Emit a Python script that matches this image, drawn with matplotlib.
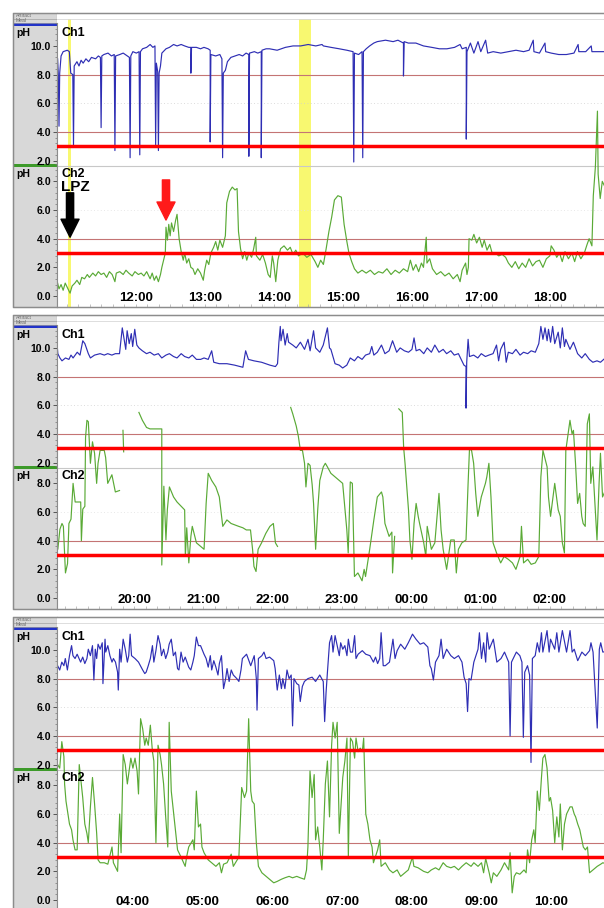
import numpy as np
import matplotlib.pyplot as plt
from matplotlib.patches import Rectangle

plt.rcParams['font.family'] = ['Liberation Sans', 'DejaVu Sans']

nan = float('nan')

# ---- readings (hour, pH) taken off the tracing ----
p1_ch1 = [(10.87, 9.1), (10.88, 8.0), (10.89, 4.4), (10.90, 8.1), (10.92, 9.3), (10.95, 9.6),
          (11.01, 9.7), (11.04, 9.6), (11.06, 8.1), (11.09, 8.0), (11.10, 3.1), (11.11, 8.6),
          (11.15, 8.9), (11.18, 8.6), (11.21, 9.0), (11.24, 8.8), (11.28, 9.1), (11.32, 8.9),
          (11.36, 9.2), (11.42, 9.1), (11.46, 9.3), (11.49, 9.2), (11.50, 4.3), (11.51, 9.3),
          (11.54, 9.4), (11.60, 9.5), (11.65, 9.3), (11.69, 9.4), (11.70, 2.7), (11.71, 9.3),
          (11.77, 9.4), (11.82, 9.5), (11.88, 9.3), (11.91, 9.2), (11.92, 2.2), (11.93, 9.3),
          (11.96, 9.6), (12.01, 9.5), (12.05, 9.6), (12.06, 2.4), (12.07, 9.6), (12.10, 9.8),
          (12.16, 9.9), (12.21, 10.1), (12.25, 9.9), (12.28, 10.0), (12.29, 3.1), (12.30, 8.8),
          (12.32, 8.2), (12.33, 2.7), (12.34, 8.1), (12.36, 8.6), (12.38, 9.5), (12.44, 9.8),
          (12.49, 9.9), (12.55, 10.1), (12.60, 10.0), (12.66, 10.1), (12.71, 10.0), (12.77, 9.9),
          (12.80, 9.9), (12.80, 8.1), (12.81, 9.9), (12.88, 9.9), (12.94, 9.8), (12.99, 9.9),
          (13.05, 9.8), (13.08, 9.7), (13.08, 3.3), (13.09, 9.4), (13.16, 9.3), (13.22, 9.4),
          (13.25, 9.1), (13.26, 2.2), (13.27, 8.1), (13.30, 8.3), (13.33, 8.9), (13.38, 9.2),
          (13.44, 9.3), (13.50, 9.4), (13.55, 9.3), (13.60, 9.5), (13.64, 9.4), (13.64, 2.3),
          (13.65, 9.5), (13.72, 9.6), (13.77, 9.5), (13.82, 9.6), (13.82, 2.2), (13.83, 9.7),
          (13.89, 9.8), (13.94, 9.8), (14.05, 9.7), (14.17, 9.9), (14.28, 10.0), (14.39, 10.0),
          (14.50, 10.1), (14.61, 10.0), (14.70, 10.1), (14.72, 10.0), (14.83, 9.9), (14.95, 9.8),
          (15.06, 9.7), (15.15, 9.6), (15.16, 1.9), (15.17, 9.5), (15.23, 9.4), (15.28, 9.6),
          (15.29, 2.2), (15.30, 9.6), (15.34, 9.8), (15.39, 10.0), (15.45, 10.2), (15.50, 10.3),
          (15.62, 10.4), (15.73, 10.3), (15.80, 10.4), (15.88, 10.2), (15.88, 7.9), (15.89, 10.3),
          (15.95, 10.2), (16.06, 10.2), (16.17, 10.0), (16.29, 9.9), (16.40, 9.8), (16.51, 9.8),
          (16.62, 9.9), (16.70, 10.1), (16.73, 9.8), (16.79, 9.9), (16.79, 3.5), (16.80, 9.6),
          (16.85, 10.2), (16.90, 9.5), (16.96, 10.3), (17.00, 9.6), (17.07, 10.4), (17.10, 9.5),
          (17.18, 9.6), (17.29, 9.5), (17.40, 9.6), (17.51, 9.7), (17.62, 9.6), (17.70, 9.7),
          (17.76, 10.4), (17.77, 9.6), (17.85, 9.5), (17.93, 10.2), (17.94, 9.6), (18.02, 9.5),
          (18.13, 9.4), (18.24, 9.4), (18.35, 9.5), (18.41, 10.1), (18.42, 9.6), (18.52, 9.6),
          (18.60, 10.0), (18.61, 9.6), (18.73, 9.6), (18.80, 9.6)]

p1_ch2 = [(10.87, 0.9), (10.89, 0.5), (10.92, 0.8), (10.95, 0.4), (10.98, 0.9), (11.02, 0.5),
          (11.05, 0.2), (11.08, 0.7), (11.12, 0.9), (11.15, 1.1), (11.19, 0.8), (11.22, 1.3),
          (11.26, 1.2), (11.30, 1.5), (11.33, 1.3), (11.38, 1.6), (11.42, 1.4), (11.46, 1.7),
          (11.50, 1.5), (11.54, 1.6), (11.58, 1.3), (11.62, 1.7), (11.66, 1.5), (11.70, 1.0),
          (11.72, 1.6), (11.77, 1.7), (11.82, 1.5), (11.86, 1.8), (11.90, 1.6), (11.95, 1.4),
          (11.99, 1.7), (12.04, 1.5), (12.08, 1.6), (12.12, 1.4), (12.16, 1.7), (12.21, 1.2),
          (12.24, 1.6), (12.27, 1.1), (12.30, 1.4), (12.33, 1.0), (12.36, 1.5), (12.38, 2.0),
          (12.41, 2.6), (12.43, 3.0), (12.44, 4.8), (12.46, 3.9), (12.48, 5.0), (12.50, 4.2),
          (12.52, 5.1), (12.55, 4.5), (12.58, 5.3), (12.60, 5.7), (12.63, 4.0), (12.66, 3.1),
          (12.69, 2.5), (12.71, 3.0), (12.74, 2.3), (12.77, 2.6), (12.80, 2.0), (12.83, 1.9),
          (12.86, 1.5), (12.90, 1.9), (12.94, 1.6), (12.98, 1.1), (13.00, 1.8), (13.03, 2.5),
          (13.06, 2.2), (13.09, 3.0), (13.13, 3.4), (13.16, 3.8), (13.19, 3.2), (13.22, 3.9),
          (13.26, 3.4), (13.30, 4.2), (13.32, 6.5), (13.36, 7.3), (13.40, 7.6), (13.44, 7.4),
          (13.47, 7.5), (13.49, 4.5), (13.52, 3.3), (13.55, 2.6), (13.58, 3.1), (13.61, 2.5),
          (13.64, 3.0), (13.68, 2.7), (13.71, 3.3), (13.74, 4.1), (13.75, 2.8), (13.80, 2.5),
          (13.84, 2.9), (13.88, 2.3), (13.92, 1.5), (13.95, 1.3), (13.98, 2.8), (14.00, 2.3),
          (14.03, 1.0), (14.06, 2.5), (14.10, 3.3), (14.15, 3.5), (14.20, 3.2), (14.24, 3.4),
          (14.28, 2.9), (14.32, 3.2), (14.36, 2.8), (14.42, 3.0), (14.48, 2.7), (14.54, 2.9),
          (14.60, 2.4), (14.64, 2.0), (14.68, 2.5), (14.72, 2.2), (14.76, 3.3), (14.80, 4.5),
          (14.84, 5.5), (14.88, 6.7), (14.93, 7.0), (14.98, 6.9), (15.02, 5.0), (15.06, 3.8),
          (15.09, 3.0), (15.13, 2.4), (15.17, 1.9), (15.22, 1.6), (15.28, 1.8), (15.34, 1.6),
          (15.40, 1.8), (15.46, 1.5), (15.52, 1.7), (15.58, 1.6), (15.64, 1.9), (15.70, 1.5),
          (15.76, 1.8), (15.82, 1.6), (15.88, 1.9), (15.94, 1.7), (15.98, 2.5), (16.02, 1.8),
          (16.06, 2.2), (16.10, 1.7), (16.14, 2.3), (16.17, 2.0), (16.21, 4.1), (16.22, 2.3),
          (16.26, 2.6), (16.30, 1.9), (16.36, 1.5), (16.42, 1.7), (16.48, 1.4), (16.54, 1.6),
          (16.60, 1.2), (16.66, 1.5), (16.70, 1.0), (16.73, 1.8), (16.78, 2.3), (16.80, 1.5),
          (16.82, 2.0), (16.83, 4.0), (16.87, 3.9), (16.90, 4.3), (16.94, 3.7), (16.98, 4.1),
          (17.02, 3.4), (17.05, 3.9), (17.09, 3.2), (17.13, 3.6), (17.17, 2.9), (17.21, 3.0),
          (17.26, 2.8), (17.31, 2.9), (17.36, 2.7), (17.40, 2.3), (17.45, 2.0), (17.50, 2.4),
          (17.55, 1.9), (17.60, 2.3), (17.65, 2.0), (17.70, 2.6), (17.75, 2.1), (17.80, 2.4),
          (17.85, 2.5), (17.90, 2.0), (17.95, 2.6), (18.00, 2.8), (18.02, 3.5), (18.06, 3.2),
          (18.10, 2.7), (18.14, 3.0), (18.18, 2.4), (18.22, 3.1), (18.27, 2.6), (18.32, 3.0),
          (18.36, 2.4), (18.40, 3.1), (18.45, 2.6), (18.50, 3.0), (18.54, 3.6), (18.57, 4.0),
          (18.61, 3.5), (18.63, 7.0), (18.66, 9.0), (18.69, 12.9), (18.70, 8.5), (18.73, 6.8),
          (18.76, 8.0), (18.80, 7.6)]

p2_ch1 = [(18.89, 10.2), (18.90, 9.6), (18.93, 9.3), (18.96, 9.1), (19.01, 9.3), (19.06, 9.2),
          (19.09, 9.5), (19.12, 9.3), (19.18, 9.7), (19.22, 9.5), (19.26, 10.5), (19.29, 10.3),
          (19.34, 9.6), (19.37, 9.3), (19.43, 9.5), (19.51, 9.6), (19.57, 9.5), (19.62, 9.6),
          (19.68, 9.5), (19.73, 9.6), (19.79, 9.6), (19.83, 11.4), (19.86, 10.5), (19.88, 9.9),
          (19.90, 11.2), (19.93, 10.3), (19.96, 11.0), (19.98, 10.1), (20.01, 11.3), (20.04, 10.2),
          (20.07, 10.0), (20.12, 9.8), (20.18, 9.6), (20.23, 9.7), (20.29, 9.5), (20.35, 9.6),
          (20.40, 9.3), (20.46, 9.5), (20.51, 9.6), (20.57, 9.4), (20.62, 9.3), (20.68, 9.6),
          (20.73, 9.4), (20.79, 9.3), (20.84, 9.5), (20.90, 9.2), (20.96, 9.2), (21.01, 9.3),
          (21.07, 9.2), (21.12, 9.8), (21.15, 9.0), (21.23, 8.9), (21.34, 8.9), (21.45, 8.8),
          (21.57, 8.65), (21.61, 9.8), (21.65, 9.2), (21.73, 9.1), (21.84, 9.0), (21.96, 8.8),
          (22.04, 8.7), (22.07, 8.9), (22.09, 10.4), (22.11, 11.5), (22.12, 10.5), (22.15, 11.3),
          (22.18, 10.2), (22.21, 11.0), (22.23, 10.4), (22.29, 10.2), (22.34, 10.0), (22.40, 10.4),
          (22.46, 9.9), (22.51, 10.6), (22.54, 9.8), (22.59, 11.2), (22.62, 10.0), (22.68, 9.7),
          (22.73, 10.2), (22.79, 11.4), (22.82, 10.0), (22.84, 9.9), (22.90, 8.9), (22.96, 8.8),
          (23.01, 8.6), (23.07, 8.8), (23.12, 9.3), (23.18, 9.1), (23.23, 9.4), (23.29, 9.2),
          (23.34, 9.5), (23.40, 9.6), (23.43, 10.1), (23.46, 9.5), (23.51, 9.7), (23.57, 10.2),
          (23.62, 9.6), (23.68, 9.8), (23.73, 10.5), (23.79, 9.7), (23.84, 10.0), (23.90, 9.8),
          (23.96, 9.7), (24.01, 9.9), (24.04, 10.7), (24.07, 9.8), (24.12, 9.9), (24.18, 9.6),
          (24.23, 10.0), (24.29, 9.7), (24.34, 10.2), (24.40, 9.7), (24.46, 9.9), (24.51, 9.6),
          (24.57, 9.8), (24.62, 9.5), (24.68, 9.6), (24.71, 9.3), (24.76, 8.8), (24.79, 8.7),
          (24.79, 5.8), (24.80, 9.0), (24.82, 10.6), (24.84, 9.4), (24.90, 9.5), (24.96, 9.3),
          (25.01, 9.6), (25.07, 9.4), (25.12, 9.5), (25.18, 9.6), (25.23, 10.2), (25.26, 9.1),
          (25.29, 9.9), (25.34, 10.4), (25.37, 9.0), (25.40, 9.7), (25.46, 9.6), (25.51, 9.9),
          (25.57, 9.5), (25.62, 9.7), (25.68, 9.6), (25.73, 9.8), (25.79, 9.7), (25.84, 10.3),
          (25.87, 11.5), (25.90, 10.6), (25.93, 11.4), (25.96, 10.5), (25.98, 11.3), (26.01, 10.4),
          (26.04, 11.5), (26.07, 10.3), (26.12, 11.1), (26.15, 10.0), (26.18, 11.4), (26.21, 10.1),
          (26.23, 10.6), (26.29, 9.9), (26.34, 10.4), (26.40, 9.6), (26.46, 9.3), (26.51, 9.6),
          (26.57, 9.2), (26.62, 9.0), (26.68, 9.1), (26.73, 9.0), (26.80, 9.3)]

p2_ch2 = [(18.89, 4.1), (18.90, 3.4), (18.93, 4.8), (18.96, 5.2), (18.98, 5.0), (19.01, 1.75),
          (19.04, 2.4), (19.06, 5.2), (19.09, 5.5), (19.12, 8.0), (19.15, 6.7), (19.18, 6.7),
          (19.23, 6.7), (19.24, 4.0), (19.26, 6.2), (19.29, 6.4), (19.30, 11.2), (19.32, 12.4),
          (19.34, 12.3), (19.37, 9.4), (19.40, 10.9), (19.43, 10.1), (19.46, 8.0), (19.48, 9.4),
          (19.51, 10.3), (19.57, 10.3), (19.59, 9.8), (19.62, 8.0), (19.68, 8.6), (19.71, 7.9),
          (19.73, 7.4), (19.79, 7.5), (19.80, nan), (19.84, 11.7), (19.85, 10.2), (19.86, nan),
          (20.07, 12.95), (20.12, 12.4), (20.18, 11.9), (20.23, 11.8), (20.29, 11.8), (20.40, 11.8),
          (20.40, 2.3), (20.43, 7.8), (20.46, 4.05), (20.48, 6.15), (20.51, 7.75), (20.57, 7.05),
          (20.62, 6.7), (20.68, 6.4), (20.73, 6.15), (20.74, 2.9), (20.76, 4.9), (20.79, 2.45),
          (20.82, 4.3), (20.84, 5.0), (20.90, 3.85), (20.96, 3.6), (21.01, 3.4), (21.04, 6.6),
          (21.07, 8.7), (21.12, 8.2), (21.18, 7.75), (21.23, 7.05), (21.28, 5.0), (21.34, 5.45),
          (21.40, 5.2), (21.51, 5.0), (21.57, 4.9), (21.62, 4.75), (21.68, 4.75), (21.71, 3.4),
          (21.73, 2.2), (21.76, 1.85), (21.79, 3.4), (21.84, 3.85), (21.90, 4.5), (21.96, 5.0),
          (22.01, 5.2), (22.04, 3.85), (22.07, 3.6), (22.08, nan), (22.26, 13.3), (22.29, 12.85),
          (22.34, 12.0), (22.37, 11.3), (22.40, 10.3), (22.43, 10.3), (22.46, 9.4), (22.48, 7.75),
          (22.51, 9.4), (22.54, 9.25), (22.57, 7.9), (22.59, 6.6), (22.62, 3.4), (22.65, 6.15),
          (22.68, 8.2), (22.73, 9.15), (22.76, 9.4), (22.79, 9.15), (22.84, 8.7), (22.90, 8.45),
          (22.96, 8.2), (23.01, 8.0), (23.07, 4.75), (23.09, 3.15), (23.12, 8.1), (23.15, 8.0),
          (23.18, 1.5), (23.23, 1.75), (23.29, 1.2), (23.32, 2.0), (23.34, 1.5), (23.40, 3.4),
          (23.46, 5.45), (23.51, 7.05), (23.57, 7.4), (23.59, 7.05), (23.62, 5.2), (23.68, 4.3),
          (23.72, 4.6), (23.73, 1.75), (23.76, 4.3), (23.77, nan), (23.82, 13.2), (23.87, 12.95),
          (23.89, 10.5), (23.91, 9.4), (23.96, 6.15), (23.98, 4.05), (24.01, 2.7), (24.04, 5.2),
          (24.07, 6.6), (24.10, 5.7), (24.12, 5.2), (24.18, 3.85), (24.21, 2.9), (24.23, 5.0),
          (24.29, 3.4), (24.34, 3.85), (24.40, 7.3), (24.43, 4.75), (24.46, 3.4), (24.51, 2.0),
          (24.57, 4.05), (24.62, 4.05), (24.65, 1.75), (24.68, 3.4), (24.73, 3.85), (24.79, 4.05),
          (24.82, 8.0), (24.84, 10.4), (24.87, 10.3), (24.90, 9.4), (24.93, 7.3), (24.96, 5.7),
          (25.01, 7.05), (25.07, 8.0), (25.09, 8.45), (25.12, 9.4), (25.15, 7.05), (25.18, 3.85),
          (25.23, 3.15), (25.29, 2.45), (25.34, 2.9), (25.40, 2.7), (25.46, 2.45), (25.51, 2.0),
          (25.57, 2.9), (25.59, 5.0), (25.62, 2.45), (25.68, 2.7), (25.73, 2.35), (25.79, 2.45),
          (25.84, 2.9), (25.87, 8.45), (25.90, 10.3), (25.96, 9.15), (25.98, 7.05), (26.01, 5.7),
          (26.07, 8.0), (26.12, 6.15), (26.15, 5.7), (26.18, 3.85), (26.21, 3.15), (26.23, 10.3),
          (26.29, 12.4), (26.32, 11.45), (26.34, 11.7), (26.37, 9.4), (26.40, 6.6), (26.43, 7.3),
          (26.46, 5.7), (26.48, 5.2), (26.51, 5.0), (26.54, 12.15), (26.57, 12.85), (26.59, 8.0),
          (26.62, 9.15), (26.65, 6.6), (26.68, 4.05), (26.71, 8.0), (26.73, 10.1), (26.76, 7.05),
          (26.80, 7.5)]

p3_ch1 = [(2.89, 8.7), (2.92, 8.9), (2.95, 8.6), (2.98, 9.15), (3.01, 8.9), (3.03, 9.4),
          (3.06, 8.6), (3.09, 9.6), (3.12, 10.3), (3.14, 9.6), (3.17, 9.4), (3.20, 9.7),
          (3.25, 9.15), (3.28, 9.5), (3.31, 9.05), (3.34, 9.4), (3.36, 10.05), (3.39, 9.6),
          (3.42, 10.3), (3.44, 7.9), (3.46, 10.05), (3.48, 9.4), (3.50, 10.4), (3.53, 10.05),
          (3.56, 10.5), (3.57, 7.65), (3.60, 10.75), (3.61, 9.85), (3.64, 10.3), (3.67, 9.6),
          (3.70, 9.15), (3.72, 9.4), (3.75, 9.15), (3.78, 8.45), (3.79, 7.2), (3.81, 10.05),
          (3.83, 9.15), (3.86, 10.75), (3.89, 10.05), (3.92, 9.15), (3.94, 9.6), (3.96, 11.1),
          (3.98, 9.6), (4.03, 9.4), (4.08, 9.15), (4.14, 8.6), (4.17, 8.35), (4.19, 8.45),
          (4.22, 8.9), (4.25, 9.4), (4.28, 10.3), (4.30, 9.15), (4.33, 9.95), (4.36, 11.0),
          (4.39, 10.4), (4.41, 9.6), (4.44, 10.05), (4.47, 9.4), (4.50, 9.85), (4.52, 10.4),
          (4.55, 10.75), (4.58, 9.6), (4.61, 9.85), (4.64, 8.7), (4.66, 8.6), (4.69, 9.85),
          (4.72, 9.15), (4.75, 9.5), (4.80, 8.8), (4.83, 8.6), (4.86, 9.15), (4.88, 9.6),
          (4.91, 10.9), (4.94, 10.3), (4.97, 10.3), (5.02, 9.7), (5.05, 9.4), (5.08, 8.8),
          (5.11, 9.6), (5.13, 8.6), (5.16, 9.25), (5.19, 8.8), (5.22, 8.25), (5.24, 9.05),
          (5.27, 9.6), (5.30, 7.3), (5.33, 8.0), (5.35, 8.7), (5.38, 7.8), (5.41, 8.6),
          (5.44, 8.25), (5.49, 8.0), (5.52, 7.8), (5.55, 8.6), (5.57, 9.4), (5.63, 9.7),
          (5.69, 8.9), (5.74, 9.6), (5.77, 8.0), (5.78, 5.8), (5.80, 9.4), (5.85, 9.6),
          (5.88, 9.85), (5.91, 9.4), (5.96, 9.5), (6.02, 9.25), (6.04, 8.7), (6.07, 7.2),
          (6.10, 8.25), (6.13, 7.3), (6.15, 8.0), (6.18, 7.3), (6.21, 8.6), (6.24, 8.0),
          (6.27, 8.25), (6.29, 4.7), (6.31, 8.0), (6.35, 7.65), (6.38, 7.55), (6.40, 6.4),
          (6.43, 7.45), (6.46, 7.8), (6.51, 8.0), (6.57, 8.1), (6.62, 7.8), (6.68, 8.25),
          (6.73, 7.8), (6.75, 5.0), (6.77, 7.0), (6.79, 8.45), (6.82, 10.5), (6.85, 11.0),
          (6.87, 9.85), (6.90, 11.0), (6.93, 10.3), (6.96, 9.6), (6.98, 10.5), (7.01, 10.05),
          (7.04, 10.3), (7.07, 9.6), (7.09, 10.75), (7.12, 9.85), (7.15, 9.85), (7.18, 11.0),
          (7.20, 9.4), (7.23, 9.7), (7.29, 9.95), (7.34, 9.7), (7.40, 9.6), (7.45, 9.15),
          (7.48, 9.5), (7.51, 9.05), (7.54, 9.4), (7.56, 11.2), (7.59, 8.9), (7.62, 8.9),
          (7.68, 9.15), (7.73, 10.75), (7.76, 9.4), (7.79, 9.95), (7.84, 10.4), (7.90, 10.05),
          (7.95, 10.5), (8.01, 11.1), (8.06, 10.75), (8.12, 10.4), (8.17, 10.5), (8.23, 10.2),
          (8.26, 8.9), (8.28, 8.7), (8.31, 7.9), (8.34, 9.15), (8.39, 9.6), (8.42, 10.75),
          (8.45, 9.4), (8.50, 10.05), (8.56, 9.6), (8.61, 9.4), (8.67, 9.6), (8.72, 9.15),
          (8.75, 8.1), (8.78, 7.65), (8.80, 5.7), (8.82, 8.0), (8.85, 7.9), (8.89, 9.15),
          (8.95, 10.05), (8.97, 11.2), (9.00, 9.4), (9.03, 10.5), (9.06, 9.15), (9.08, 11.2),
          (9.11, 10.05), (9.17, 10.75), (9.22, 9.15), (9.28, 9.4), (9.33, 9.85), (9.39, 9.15),
          (9.41, 4.0), (9.43, 9.15), (9.50, 9.85), (9.55, 9.6), (9.58, 9.15), (9.60, 3.9),
          (9.62, 8.45), (9.66, 8.9), (9.69, 8.25), (9.71, 2.15), (9.73, 9.4), (9.77, 9.6),
          (9.80, 10.5), (9.83, 9.85), (9.86, 11.2), (9.88, 9.85), (9.94, 11.35), (9.97, 9.85),
          (9.99, 10.75), (10.05, 10.05), (10.08, 11.2), (10.11, 9.85), (10.16, 11.35), (10.22, 9.85),
          (10.27, 11.35), (10.30, 9.85), (10.33, 10.05), (10.38, 9.25), (10.44, 9.85), (10.49, 9.6),
          (10.55, 9.95), (10.57, 10.5), (10.60, 9.85), (10.66, 4.55), (10.69, 10.05), (10.71, 10.5),
          (10.74, 9.85), (10.80, 9.9)]

p3_ch2 = [(2.89, 8.1), (2.92, 9.45), (2.95, 9.2), (2.98, 11.05), (3.01, 10.0), (3.02, 8.1),
          (3.04, 6.9), (3.06, 6.25), (3.09, 5.3), (3.12, 4.9), (3.14, 4.2), (3.17, 3.5),
          (3.20, 3.5), (3.23, 9.45), (3.25, 8.55), (3.28, 7.15), (3.31, 5.3), (3.34, 4.65),
          (3.36, 4.0), (3.39, 6.5), (3.42, 8.55), (3.45, 6.7), (3.48, 4.65), (3.50, 2.8),
          (3.53, 2.6), (3.59, 2.6), (3.64, 2.5), (3.70, 3.7), (3.72, 2.6), (3.78, 2.0),
          (3.81, 6.0), (3.83, 3.3), (3.86, 10.15), (3.89, 9.45), (3.92, 8.1), (3.97, 9.9),
          (4.00, 9.2), (4.03, 9.9), (4.06, 9.0), (4.08, 7.4), (4.11, 12.65), (4.14, 11.95),
          (4.17, 10.8), (4.19, 11.3), (4.22, 10.8), (4.25, 12.2), (4.28, 10.35), (4.30, 9.7),
          (4.33, 4.0), (4.36, 10.8), (4.39, 10.15), (4.41, 9.45), (4.44, 8.1), (4.47, 5.8),
          (4.50, 3.7), (4.52, 12.4), (4.55, 7.6), (4.58, 6.25), (4.61, 4.9), (4.64, 3.5),
          (4.69, 3.0), (4.75, 2.35), (4.77, 3.0), (4.80, 3.7), (4.86, 4.2), (4.88, 3.5),
          (4.91, 7.6), (4.94, 5.1), (4.97, 5.3), (4.99, 3.7), (5.02, 3.3), (5.08, 2.8),
          (5.13, 2.6), (5.19, 2.35), (5.24, 2.6), (5.27, 1.9), (5.30, 2.5), (5.35, 2.6),
          (5.41, 3.2), (5.44, 2.35), (5.52, 3.0), (5.56, 7.85), (5.60, 7.15), (5.63, 7.6),
          (5.66, 12.65), (5.69, 7.6), (5.71, 6.9), (5.74, 6.7), (5.77, 4.0), (5.80, 2.35),
          (5.85, 1.9), (5.91, 1.65), (5.96, 1.45), (6.02, 1.2), (6.07, 1.3), (6.13, 1.45),
          (6.18, 1.55), (6.24, 1.65), (6.29, 1.55), (6.35, 1.65), (6.40, 1.55), (6.46, 1.45),
          (6.49, 2.1), (6.51, 3.7), (6.54, 9.0), (6.57, 7.15), (6.60, 8.75), (6.62, 4.2),
          (6.65, 5.1), (6.68, 3.7), (6.71, 2.1), (6.73, 4.2), (6.76, 8.1), (6.79, 9.7),
          (6.82, 5.8), (6.85, 10.8), (6.87, 12.4), (6.90, 11.3), (6.93, 12.4), (6.96, 4.65),
          (6.98, 6.25), (7.01, 8.55), (7.04, 9.7), (7.07, 11.3), (7.09, 3.0), (7.12, 11.3),
          (7.15, 11.05), (7.18, 9.9), (7.20, 11.3), (7.23, 10.35), (7.26, 10.6), (7.29, 10.35),
          (7.31, 11.3), (7.34, 6.0), (7.37, 5.3), (7.40, 4.2), (7.43, 3.7), (7.45, 2.6),
          (7.51, 3.5), (7.54, 4.2), (7.56, 2.35), (7.62, 2.6), (7.68, 2.1), (7.73, 1.9),
          (7.79, 2.1), (7.84, 1.65), (7.90, 1.9), (7.95, 2.1), (8.01, 3.0), (8.03, 2.35),
          (8.09, 2.25), (8.17, 2.0), (8.23, 1.9), (8.28, 2.1), (8.34, 2.25), (8.39, 2.1),
          (8.45, 2.6), (8.50, 2.35), (8.56, 2.25), (8.61, 2.35), (8.67, 2.1), (8.72, 2.35),
          (8.78, 2.6), (8.85, 2.35), (8.89, 2.6), (8.95, 2.35), (9.00, 2.6), (9.03, 1.9),
          (9.06, 2.9), (9.11, 1.9), (9.14, 1.2), (9.17, 1.9), (9.22, 1.65), (9.28, 2.1),
          (9.33, 2.6), (9.39, 2.1), (9.41, 3.3), (9.44, 0.5), (9.47, 1.65), (9.50, 1.9),
          (9.55, 1.8), (9.61, 2.1), (9.64, 1.9), (9.66, 3.5), (9.69, 2.6), (9.72, 4.2),
          (9.75, 4.9), (9.77, 4.0), (9.80, 7.6), (9.83, 6.25), (9.86, 8.55), (9.88, 9.9),
          (9.91, 10.15), (9.94, 9.2), (9.97, 6.9), (9.99, 7.15), (10.02, 6.25), (10.05, 4.0),
          (10.08, 5.8), (10.11, 4.4), (10.13, 6.7), (10.16, 3.5), (10.19, 5.3), (10.22, 6.0),
          (10.27, 6.5), (10.30, 6.5), (10.33, 6.0), (10.35, 5.8), (10.38, 5.3), (10.41, 4.9),
          (10.44, 4.2), (10.46, 3.7), (10.49, 3.5), (10.52, 3.7), (10.55, 1.9), (10.60, 2.1),
          (10.66, 2.35), (10.71, 2.5), (10.74, 2.6), (10.80, 2.5)]

hours_p1 = [12, 13, 14, 15, 16, 17, 18]
hours_p2 = [20, 21, 22, 23, 24, 25, 26]
hours_p3 = [4, 5, 6, 7, 8, 9, 10]
meals_p1 = [(11.015, 11.07), (14.36, 14.54)]
ch1_ticks = [2.0, 4.0, 6.0, 8.0, 10.0]
ch2_ticks = [0.0, 2.0, 4.0, 6.0, 8.0]

# ---- layout (pixels) ----
W, H = 604, 908
PX = 14.35          # pixels per pH unit
OFF = 7.45          # Ch1 drawn this far above the Ch2 scale
PH_H = 294          # panel height
BLUE = '#2e2eb4'
GREEN = '#5aaa36'
ROSE = '#c47474'


def fx(x):
    return x / W


def fy(y):
    return 1 - y / H


fig = plt.figure(figsize=(W / 100, H / 100), dpi=100)


def panel(top, xlim, hours, ch1, ch2, meals=()):
    # grey label strip on the left
    s = fig.add_axes([fx(13), fy(top + PH_H), 44 / W, PH_H / H])
    s.set_xlim(0, 44)
    s.set_ylim(PH_H, 0)
    s.set_facecolor('#d8d8d8')
    s.set_xticks([])
    s.set_yticks([])
    for sp in s.spines.values():
        sp.set_color('#8c8c8c')
        sp.set_linewidth(0.8)
    s.axhline(5.5, color='#a0a0a0', lw=0.5)
    s.axhline(10, color='#a0a0a0', lw=0.5)
    s.text(3, 2.8, 'Artifact', fontsize=3.6, color='#6a6a6a', va='center')
    s.text(3, 7.9, 'Meal', fontsize=3.6, color='#6a6a6a', va='center')
    s.add_patch(Rectangle((0, 10.4), 44, 2.3, color='#2233c8', lw=0))
    s.add_patch(Rectangle((0, 151), 44, 2.8, color='#3d9a2a', lw=0))
    s.text(3, 20, 'pH', fontsize=7.5, fontweight='bold', va='center')
    s.text(3, 161, 'pH', fontsize=7.5, fontweight='bold', va='center')

    # Artifact / Meal rows
    h = fig.add_axes([fx(57), fy(top + 10), 547 / W, 10 / H])
    h.set_xlim(*xlim)
    h.set_ylim(10, 0)
    h.set_xticks([])
    h.set_yticks([])
    for k in ('left', 'right'):
        h.spines[k].set_visible(False)
    h.spines['top'].set_color('#8c8c8c')
    h.spines['bottom'].set_color('#cccccc')
    h.spines['bottom'].set_linewidth(0.6)
    h.axhline(5.5, color='#d8d8d8', lw=0.6)
    for a, b in meals:
        h.axvspan(a, b, ymin=0, ymax=0.45, color='#f8f870', lw=0)

    # tracing area
    ax = fig.add_axes([fx(57), fy(top + PH_H), 547 / W, (PH_H - 10) / H])
    ax.set_xlim(*xlim)
    ax.set_ylim(-11 / PX, 273 / PX)
    ax.spines['top'].set_visible(False)
    ax.spines['right'].set_visible(False)
    ax.spines['left'].set_color('#8c8c8c')
    ax.spines['bottom'].set_color('#b4b4b4')

    for a, b in meals:
        ax.axvspan(a, b, color='#f8f870', lw=0, zorder=0)

    # reference lines
    ax.axhline(6 + OFF, color='#d0d0d0', lw=0.6, ls=(0, (1, 3)), zorder=1)
    ax.axhline(6, color='#e0e0e0', lw=0.6, ls=(0, (1, 3)), zorder=1)
    ax.axhline((283 - 152.5) / PX, color='#c8c8c8', lw=0.8, zorder=1)
    for v in (8 + OFF, 4 + OFF, 4):
        ax.axhline(v, color=ROSE, lw=0.8, zorder=1)

    t1, v1 = np.array(ch1).T
    t2, v2 = np.array(ch2).T
    ax.plot(t1, v1 + OFF, color=BLUE, lw=0.85, zorder=2)
    ax.plot(t2, v2, color=GREEN, lw=0.85, zorder=2)

    for v in (3 + OFF, 3):
        ax.axhline(v, color='#ff0000', lw=2.5, zorder=3)

    # pH scales for both channels
    yt = list(ch2_ticks) + [v + OFF for v in ch1_ticks]
    yl = [f'{v:.1f}' for v in ch2_ticks] + [f'{v:.1f}' for v in ch1_ticks]
    ax.set_yticks(yt)
    ax.set_yticklabels(yl, fontsize=7.5, fontweight='bold')
    minor = list(np.arange(0, 9.3, 0.4)) + list(np.arange(2.0, 11.7, 0.4) + OFF)
    ax.set_yticks(minor, minor=True)
    ax.tick_params(axis='y', which='major', direction='out', length=3.2, width=0.7,
                   color='#555555', pad=1.2)
    ax.tick_params(axis='y', which='minor', direction='out', length=1.6, width=0.5,
                   color='#777777')
    ax.set_xticks([])
    ax.set_xticks(np.arange(np.ceil(xlim[0] * 6) / 6, xlim[1], 1 / 6), minor=True)
    ax.tick_params(axis='x', which='minor', direction='in', length=2.0, width=0.5,
                   color='#aaaaaa')

    for hr in hours:
        ax.text(hr, -0.16, f'{hr % 24:02d}:00', ha='center', va='center',
                fontsize=9.5, fontweight='bold', zorder=4)

    fig.text(fx(62), fy(top + 20), 'Ch1', fontsize=9, fontweight='bold', va='center')
    fig.text(fx(62), fy(top + 161), 'Ch2', fontsize=9, fontweight='bold', va='center')

    fig.patches.append(Rectangle((fx(13), fy(top + PH_H)), (W - 8) / W, PH_H / H,
                                 transform=fig.transFigure, fill=False,
                                 ec='#8c8c8c', lw=1.0, zorder=5))
    return ax


ax1 = panel(13, (10.861, 18.785), hours_p1, p1_ch1, p1_ch2, meals_p1)
panel(315, (18.888, 26.781), hours_p2, p2_ch1, p2_ch2)
panel(617, (2.911, 10.757), hours_p3, p3_ch1, p3_ch2)

# LPZ dose and first acid-reflux markers
fig.text(fx(61), fy(13 + 174), 'LPZ', fontsize=11, fontweight='bold', va='center')
ax1.annotate('', xy=(11.05, 4.1), xytext=(11.05, 7.2),
             arrowprops=dict(arrowstyle='simple,head_length=1.0,head_width=1.0,tail_width=0.4',
                             mutation_scale=13, color='black', shrinkA=0, shrinkB=0),
             zorder=6)
ax1.annotate('', xy=(12.44, 5.3), xytext=(12.44, 8.1),
             arrowprops=dict(arrowstyle='simple,head_length=1.0,head_width=1.0,tail_width=0.4',
                             mutation_scale=13, color='#ff1a1a', shrinkA=0, shrinkB=0),
             zorder=6)

fig.savefig('out.png', dpi=100)
